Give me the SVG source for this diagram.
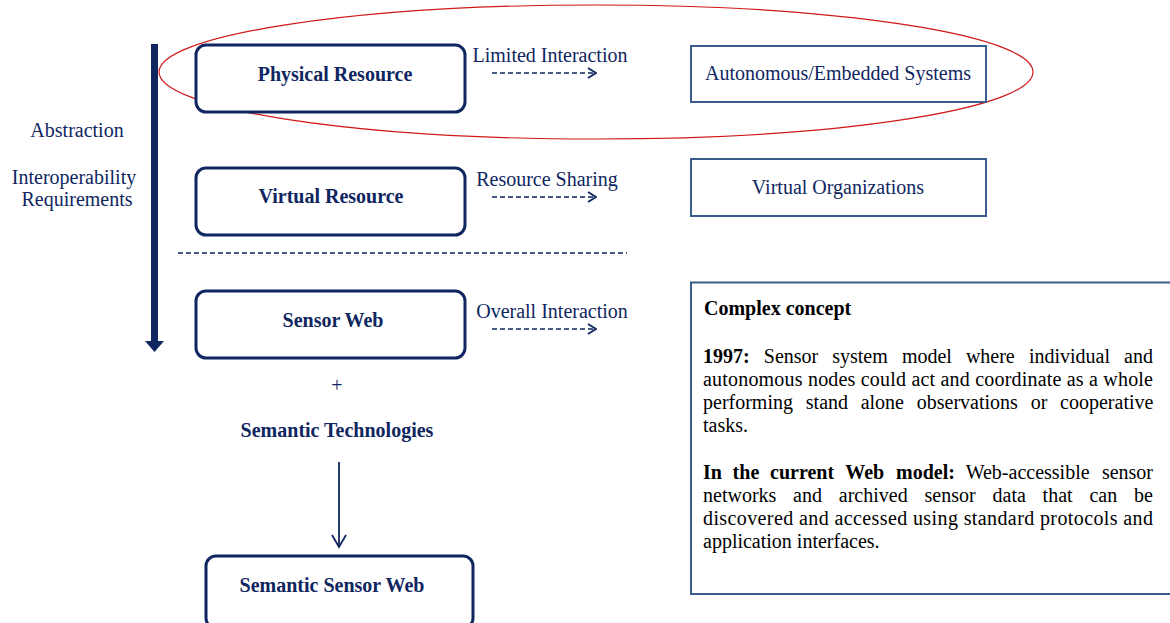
<svg xmlns="http://www.w3.org/2000/svg" width="1170" height="623" viewBox="0 0 1170 623">
  <style>
    text { font-family: "Liberation Serif", "Times New Roman", serif; fill: #0f2660; }
    .lbl { font-size: 20px; }
    .b { font-weight: bold; }
    .mid { text-anchor: middle; }
    .node { fill: #ffffff; stroke: #0f2660; stroke-width: 3; }
    .side { fill: #ffffff; stroke: #3a5c8e; stroke-width: 2; }
    .dash { stroke: #0f2660; stroke-width: 1.6; stroke-dasharray: 5 3; fill: none; }
    .head { stroke: #0f2660; stroke-width: 1.8; fill: none; }
    .body { font-size: 20px; fill: #000000; }
  </style>
  <defs>
    <marker id="chev" viewBox="0 0 10 12" refX="9" refY="6" markerWidth="10" markerHeight="12" markerUnits="userSpaceOnUse" orient="auto">
      <path d="M1 1 L9 6 L1 11" class="head"/>
    </marker>
  </defs>

  <!-- highlight around the physical layer -->
  <ellipse id="highlight" cx="596" cy="72" rx="437" ry="67" fill="none" stroke="#d01818" stroke-width="1.2"/>

  <!-- vertical abstraction axis -->
  <g id="axis">
    <rect x="151" y="44" width="7" height="300" fill="#0f2660"/>
    <path d="M145 341 L164 341 L154.5 352 Z" fill="#0f2660"/>
    <text class="lbl mid" x="77" y="137">Abstraction</text>
    <text class="lbl mid" x="74" y="184">Interoperability</text>
    <text class="lbl mid" x="77" y="206">Requirements</text>
  </g>

  <g id="physical-resource">
    <rect class="node" x="196" y="45" width="269" height="67" rx="10"/>
    <text class="lbl b mid" x="335" y="81">Physical Resource</text>
  </g>
  <g id="virtual-resource">
    <rect class="node" x="196" y="168" width="269" height="67" rx="10"/>
    <text class="lbl b mid" x="331" y="203">Virtual Resource</text>
  </g>
  <g id="sensor-web">
    <rect class="node" x="196" y="291" width="269" height="67" rx="10"/>
    <text class="lbl b mid" x="333" y="327">Sensor Web</text>
  </g>
  <g id="semantic-technologies">
    <text class="lbl mid" x="337" y="392">+</text>
    <text class="lbl b mid" x="337" y="437">Semantic Technologies</text>
  </g>
  <g id="semantic-sensor-web">
    <rect class="node" x="206" y="556" width="267" height="72" rx="10"/>
    <text class="lbl b mid" x="332" y="592">Semantic Sensor Web</text>
  </g>

  <g id="autonomous-systems">
    <rect class="side" x="691" y="46" width="295" height="56"/>
    <text class="lbl mid" x="838" y="80">Autonomous/Embedded Systems</text>
  </g>
  <g id="virtual-organizations">
    <rect class="side" x="691" y="159" width="295" height="57"/>
    <text class="lbl mid" x="838" y="194">Virtual Organizations</text>
  </g>

  <!-- justified paragraph: word positions laid out from x=703 to x=1153 -->
  <g id="complex-concept">
    <path class="side" d="M1172 282.5 L691 282.5 L691 594 L1172 594"/>
    <text class="body b" x="704" y="315">Complex concept</text>
    <text class="body" y="363"><tspan class="b" x="703">1997:</tspan><tspan x="763.8">Sensor</tspan><tspan x="832.2">system</tspan><tspan x="901.9">model</tspan><tspan x="965.9">where</tspan><tspan x="1028.9">individual</tspan><tspan x="1124.1">and</tspan></text>
    <text class="body" x="703" y="386" textLength="450" lengthAdjust="spacing">autonomous nodes could act and coordinate as a whole</text>
    <text class="body" y="409"><tspan x="703">performing</tspan><tspan x="805.8">stand</tspan><tspan x="860.7">alone</tspan><tspan x="916.8">observations</tspan><tspan x="1030.7">or</tspan><tspan x="1060.1">cooperative</tspan></text>
    <text class="body" x="703" y="432">tasks.</text>
    <text class="body" y="479"><tspan class="b" x="703">In</tspan><tspan class="b" x="732.6">the</tspan><tspan class="b" x="770.1">current</tspan><tspan class="b" x="845.3">Web</tspan><tspan class="b" x="896">model:</tspan><tspan x="965.7">Web-accessible</tspan><tspan x="1101.9">sensor</tspan></text>
    <text class="body" y="502"><tspan x="703">networks</tspan><tspan x="793.1">and</tspan><tspan x="838.8">archived</tspan><tspan x="924.5">sensor</tspan><tspan x="992.5">data</tspan><tspan x="1042.6">that</tspan><tspan x="1089.4">can</tspan><tspan x="1134.1">be</tspan></text>
    <text class="body" x="703" y="525" textLength="450" lengthAdjust="spacing">discovered and accessed using standard protocols and</text>
    <text class="body" x="703" y="548">application interfaces.</text>
  </g>

  <g id="connectors">
    <line class="dash" x1="178" y1="253" x2="627" y2="253" stroke-width="2" stroke-dasharray="6 4"/>
    <path class="dash" d="M492 73 L596 73" marker-end="url(#chev)"/>
    <path class="dash" d="M492 197 L596 197" marker-end="url(#chev)"/>
    <path class="dash" d="M492 329 L596 329" marker-end="url(#chev)"/>
    <text class="lbl mid" x="550" y="62">Limited Interaction</text>
    <text class="lbl mid" x="547" y="186">Resource Sharing</text>
    <text class="lbl mid" x="552" y="318">Overall Interaction</text>
    <line x1="339" y1="462" x2="339" y2="546" stroke="#0f2660" stroke-width="1.8"/>
    <path class="head" d="M332 535 L339 547 L346 535"/>
  </g>
</svg>
